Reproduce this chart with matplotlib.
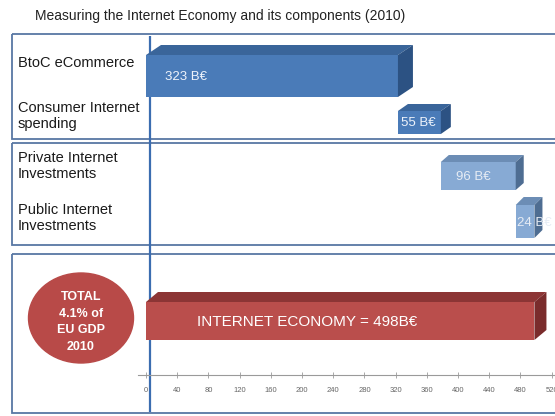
import matplotlib
matplotlib.use("Agg")
import matplotlib.pyplot as plt
from matplotlib.patches import Rectangle, Polygon, Ellipse

plt.rcParams['font.family'] = ['Liberation Sans', 'DejaVu Sans']

# ---- data -------------------------------------------------------------
title = "Measuring the Internet Economy and its components (2010)"
components = ["BtoC eCommerce", "Consumer Internet\nspending",
              "Private Internet\nInvestments", "Public Internet\nInvestments"]
values = [323, 55, 96, 24]                     # billion euro
value_labels = ["323 B€", "55 B€", "96 B€", "24 B€"]
total_value = 498
total_label = "INTERNET ECONOMY = 498B€"
gdp_note = "TOTAL\n4.1% of\nEU GDP\n2010"
tick_values = list(range(0, 521, 40))

# ---- styling ----------------------------------------------------------
W, H = 555, 416
x0_px, px_per_unit = 146, 0.78        # position of 0 and scale of the value axis
axis_y = 375                          # pixel row of the value axis

# per bar: (front top, front bottom, depth dx, depth dy, front, top, side, text colour)
bar_rows = [
    (55, 97, 15, 10, "#4a7bb8", "#3a659a", "#2c5283", "#eef3fb"),
    (111, 134, 10, 7, "#4a7bb8", "#3a659a", "#2c5283", "#eef3fb"),
    (162, 190, 8, 7, "#87aad4", "#6c8db5", "#4e6d92", "#e6ecf4"),
    (205, 238, 8, 8, "#87aad4", "#6c8db5", "#4e6d92", "#e6ecf4"),
]
total_row = (302, 340, 12, 10, "#ba4e4c", "#8c3535", "#7a2c2c", "white")
label_rows = [63, 116, 166, 218]
border = "#5877a4"

fig = plt.figure(figsize=(W / 100, H / 100), dpi=100)

# background layer in pixel coordinates
bg = fig.add_axes([0, 0, 1, 1])
bg.set_xlim(0, W)
bg.set_ylim(H, 0)
bg.axis("off")

bg.text(35, 16, title, fontsize=10, color="#222222", va="center", ha="left")

for top, bottom in [(34, 139), (143, 245), (254, 413)]:
    bg.add_patch(Rectangle((12, top), 560, bottom - top, fill=False,
                           edgecolor=border, lw=1.3, clip_on=False))
bg.plot([138, x0_px], [axis_y, axis_y], color="#9a9a9a", lw=0.8)
bg.plot([150, 150], [36, 412], color="#3b6db0", lw=1.6, solid_capstyle="butt")

for text, y in zip(components, label_rows):
    bg.text(18, y, text, fontsize=10.5, color="#1a1a1a", va="center",
            ha="left", linespacing=1.25)

bg.add_patch(Ellipse((81, 318), 105, 90, color="#b84a48"))
bg.text(81, 322, gdp_note, fontsize=9, fontweight="bold", color="white",
        ha="center", va="center", linespacing=1.5)

# value axis with the 3-D waterfall bars
left = x0_px / W
ax = fig.add_axes([left, (H - axis_y) / H, 1 - left, axis_y / H])
ax.set_xlim(0, (W - x0_px) / px_per_unit)
ax.set_ylim(axis_y, 0)
ax.patch.set_alpha(0)
for s in ["top", "right", "left"]:
    ax.spines[s].set_visible(False)
ax.spines["bottom"].set_color("#9a9a9a")
ax.spines["bottom"].set_linewidth(0.8)
ax.set_yticks([])
ax.set_xticks(tick_values)
ax.tick_params(axis="x", direction="inout", length=4, width=0.6, color="#9a9a9a",
               labelsize=5.5, labelcolor="#666666", pad=7)


def bar3d(start, length, row, label, label_size, label_dx):
    top, bottom, dxp, dyp, c_front, c_top, c_side, c_txt = row
    dx = dxp / px_per_unit
    x1 = start + length
    ax.add_patch(Rectangle((start, top), length, bottom - top, facecolor=c_front,
                           edgecolor="none", clip_on=False, zorder=3))
    ax.add_patch(Polygon([(start, top), (start + dx, top - dyp), (x1 + dx, top - dyp),
                          (x1, top)], closed=True, facecolor=c_top,
                         edgecolor="none", clip_on=False, zorder=3))
    ax.add_patch(Polygon([(x1, top), (x1 + dx, top - dyp), (x1 + dx, bottom - dyp),
                          (x1, bottom)], closed=True, facecolor=c_side,
                         edgecolor="none", clip_on=False, zorder=3))
    ax.text(start + label_dx, (top + bottom) / 2 + 1, label, fontsize=label_size,
            color=c_txt, va="center", ha="left", zorder=4, clip_on=False)


start = 0
label_offsets = [24, 4, 20, 2]
for v, lab, row, off in zip(values, value_labels, bar_rows, label_offsets):
    bar3d(start, v, row, lab, 9.5, off)
    start += v

bar3d(0, total_value, total_row, total_label, 11, 66)

fig.savefig("out.png", dpi=100)
